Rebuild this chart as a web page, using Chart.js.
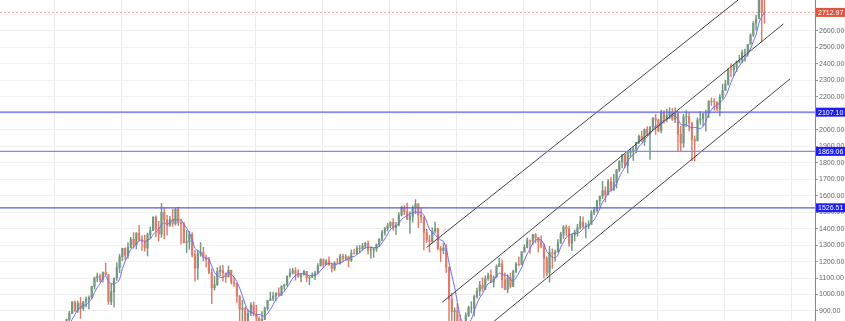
<!DOCTYPE html>
<html>
<head>
<meta charset="utf-8">
<script src="https://cdn.jsdelivr.net/npm/chart.js@4.4.0/dist/chart.umd.min.js"></script>
<style>
html, body { margin: 0; padding: 0; background: #fff; }
</style>
</head>
<body>
<canvas id="chartID" width="845" height="321"></canvas>
<script>
// monthly S&P 500 candles, Jan 1997 .. Mar 2018
const startYear = 1997
const firstOpen = 740.74

const closes = [
	786.16, 790.82, 757.12, 801.34, 848.28, 885.14, 954.29, 899.47, 947.28, 914.62, 955.40, 970.43,
	980.28, 1049.34, 1101.75, 1111.75, 1090.82, 1133.84, 1120.67, 957.28, 1017.01, 1098.67, 1163.63, 1229.23,
	1279.64, 1238.33, 1286.37, 1335.18, 1301.84, 1372.71, 1328.72, 1320.41, 1282.71, 1362.93, 1388.91, 1469.25,
	1394.46, 1366.42, 1498.58, 1452.43, 1420.60, 1454.60, 1430.83, 1517.68, 1436.51, 1429.40, 1314.95, 1320.28,
	1366.01, 1239.94, 1160.33, 1249.46, 1255.82, 1224.42, 1211.23, 1133.58, 1040.94, 1059.78, 1139.45, 1148.08,
	1130.20, 1106.73, 1147.39, 1076.92, 1067.14, 989.82, 911.62, 916.07, 815.28, 885.76, 936.31, 879.82,
	855.70, 841.15, 848.18, 916.92, 963.59, 974.50, 990.31, 1008.01, 995.97, 1050.71, 1058.20, 1111.92,
	1131.13, 1144.94, 1126.21, 1107.30, 1120.68, 1140.84, 1101.72, 1104.24, 1114.58, 1130.20, 1173.82, 1211.92,
	1181.27, 1203.60, 1180.59, 1156.85, 1191.50, 1191.33, 1234.18, 1220.33, 1228.81, 1207.01, 1249.48, 1248.29,
	1280.08, 1280.66, 1294.83, 1310.61, 1270.09, 1270.20, 1276.66, 1303.82, 1335.85, 1377.94, 1400.63, 1418.30,
	1438.24, 1406.82, 1420.86, 1482.37, 1530.62, 1503.35, 1455.27, 1473.99, 1526.75, 1549.38, 1481.14, 1468.36,
	1378.55, 1330.63, 1322.70, 1385.59, 1400.38, 1280.00, 1267.38, 1282.83, 1166.36, 968.75, 896.24, 903.25,
	825.88, 735.09, 797.87, 872.81, 919.14, 919.32, 987.48, 1020.62, 1057.08, 1036.19, 1095.63, 1115.10,
	1073.87, 1104.49, 1169.43, 1186.69, 1089.41, 1030.71, 1101.60, 1049.33, 1141.20, 1183.26, 1180.55, 1257.64,
	1286.12, 1327.22, 1325.83, 1363.61, 1345.20, 1320.64, 1292.28, 1218.89, 1131.42, 1253.30, 1246.96, 1257.60,
	1312.41, 1365.68, 1408.47, 1397.91, 1310.33, 1362.16, 1379.32, 1406.58, 1440.67, 1412.16, 1416.18, 1426.19,
	1498.11, 1514.68, 1569.19, 1597.57, 1630.74, 1606.28, 1685.73, 1632.97, 1681.55, 1756.54, 1805.81, 1848.36,
	1782.59, 1859.45, 1872.34, 1883.95, 1923.57, 1960.23, 1930.67, 2003.37, 1972.29, 2018.05, 2067.56, 2058.90,
	1994.99, 2104.50, 2067.89, 2085.51, 2107.39, 2063.11, 2103.84, 1972.18, 1920.03, 2079.36, 2080.41, 2043.94,
	1940.24, 1932.23, 2059.74, 2065.30, 2096.95, 2098.86, 2173.60, 2170.95, 2168.27, 2126.15, 2198.81, 2238.83,
	2278.87, 2363.64, 2362.72, 2384.20, 2411.80, 2423.41, 2470.30, 2471.65, 2519.36, 2575.26, 2647.58, 2673.61,
	2823.81, 2713.83, 2712.97,
]

const highs = [
	794.67, 817.68, 814.90, 812.93, 851.87, 898.70, 957.73, 961.63, 960.46, 983.12, 959.13, 986.25,
	992.65, 1050.67, 1105.65, 1130.52, 1123.95, 1138.49, 1190.58, 1121.00, 1066.11, 1102.00, 1192.97, 1244.93,
	1280.00, 1283.00, 1316.00, 1347.80, 1375.98, 1376.00, 1420.33, 1357.00, 1361.00, 1373.00, 1410.00, 1473.00,
	1478.00, 1444.55, 1552.87, 1527.19, 1481.51, 1474.00, 1517.32, 1525.00, 1530.09, 1454.80, 1438.00, 1389.00,
	1383.37, 1376.38, 1267.42, 1269.30, 1315.93, 1286.62, 1239.78, 1226.27, 1155.40, 1110.61, 1163.38, 1173.62,
	1176.97, 1130.20, 1173.94, 1147.84, 1106.59, 1070.00, 994.46, 965.00, 924.02, 907.44, 951.57, 954.28,
	935.05, 864.64, 895.90, 924.24, 965.38, 1015.33, 1015.41, 1011.01, 1040.29, 1053.79, 1063.65, 1112.56,
	1155.38, 1158.98, 1163.23, 1150.57, 1127.74, 1146.34, 1140.84, 1109.68, 1131.54, 1142.05, 1188.46, 1217.33,
	1217.80, 1212.44, 1229.11, 1191.75, 1199.56, 1219.59, 1245.15, 1245.86, 1243.13, 1233.34, 1270.64, 1275.80,
	1294.90, 1297.57, 1310.88, 1318.16, 1326.70, 1290.68, 1280.42, 1306.74, 1340.28, 1389.45, 1407.89, 1431.81,
	1441.61, 1461.57, 1438.89, 1498.02, 1535.56, 1540.56, 1555.90, 1503.89, 1538.74, 1576.09, 1552.76, 1523.57,
	1471.77, 1396.02, 1359.68, 1404.57, 1440.24, 1404.05, 1292.17, 1313.15, 1303.04, 1167.03, 1007.51, 918.85,
	943.85, 875.01, 832.98, 888.70, 930.17, 956.23, 996.68, 1039.47, 1080.15, 1101.36, 1113.69, 1130.38,
	1150.45, 1112.42, 1180.16, 1219.80, 1210.39, 1131.23, 1120.95, 1129.24, 1148.90, 1196.14, 1227.08, 1262.60,
	1302.67, 1344.07, 1332.28, 1366.00, 1370.58, 1345.20, 1356.48, 1307.38, 1229.29, 1292.66, 1277.55, 1269.37,
	1333.47, 1378.04, 1419.15, 1422.38, 1415.32, 1363.46, 1391.74, 1426.68, 1474.51, 1470.96, 1434.27, 1448.00,
	1509.94, 1530.94, 1570.28, 1597.57, 1687.18, 1654.19, 1698.78, 1709.67, 1729.86, 1759.82, 1813.55, 1849.44,
	1850.84, 1867.92, 1883.97, 1897.28, 1924.03, 1968.17, 1991.39, 2005.04, 2019.26, 2018.19, 2075.76, 2093.55,
	2064.43, 2119.59, 2117.52, 2125.92, 2134.72, 2129.87, 2132.82, 2112.66, 2020.86, 2094.32, 2116.48, 2104.27,
	2038.20, 1962.96, 2072.21, 2111.05, 2099.06, 2120.55, 2177.09, 2193.81, 2187.87, 2169.60, 2214.10, 2277.53,
	2300.99, 2371.54, 2400.98, 2398.16, 2418.71, 2453.82, 2484.04, 2490.87, 2519.44, 2582.98, 2657.74, 2694.97,
	2872.87, 2835.96, 2801.90,
]

const lows = [
	737.01, 773.43, 756.00, 733.54, 793.21, 837.16, 883.00, 897.60, 891.40, 855.27, 903.57, 924.92,
	912.83, 979.00, 1032.00, 1076.70, 1074.39, 1074.67, 1114.30, 939.98, 939.00, 923.32, 1086.00, 1132.88,
	1205.50, 1211.00, 1221.00, 1282.80, 1281.00, 1277.00, 1328.00, 1268.00, 1263.00, 1233.70, 1340.00, 1387.00,
	1350.00, 1325.00, 1346.60, 1339.40, 1361.00, 1414.00, 1413.00, 1421.00, 1419.00, 1305.79, 1312.00, 1254.07,
	1274.62, 1228.00, 1081.19, 1091.99, 1232.00, 1203.00, 1165.54, 1124.87, 944.75, 1026.76, 1054.31, 1114.51,
	1081.66, 1074.36, 1106.73, 1063.46, 1048.96, 952.92, 775.68, 833.44, 815.28, 768.63, 872.00, 871.00,
	840.00, 806.29, 788.90, 847.85, 902.83, 963.59, 962.10, 960.84, 990.36, 994.00, 1031.20, 1053.41,
	1105.08, 1124.44, 1087.06, 1105.00, 1076.32, 1118.00, 1078.78, 1060.72, 1101.29, 1090.19, 1127.60, 1173.37,
	1163.75, 1180.95, 1176.92, 1136.15, 1146.18, 1188.30, 1183.55, 1201.07, 1205.35, 1168.20, 1201.07, 1246.59,
	1245.74, 1253.61, 1268.42, 1280.74, 1245.34, 1219.29, 1224.54, 1261.30, 1290.93, 1327.10, 1360.98, 1385.93,
	1403.97, 1389.42, 1363.98, 1416.37, 1476.70, 1484.18, 1454.25, 1370.60, 1439.29, 1489.56, 1406.10, 1435.65,
	1270.05, 1316.75, 1256.98, 1312.75, 1373.07, 1272.00, 1200.44, 1248.45, 1133.50, 839.80, 741.02, 815.69,
	804.47, 734.52, 666.79, 783.32, 866.10, 888.86, 869.32, 978.51, 992.25, 1019.95, 1029.38, 1085.89,
	1071.59, 1044.50, 1105.24, 1170.69, 1040.78, 1028.33, 1010.91, 1039.70, 1048.08, 1131.87, 1173.00, 1186.60,
	1257.62, 1282.86, 1249.05, 1302.00, 1311.80, 1258.07, 1282.86, 1101.54, 1114.22, 1074.77, 1158.66, 1202.37,
	1258.86, 1310.73, 1340.03, 1357.38, 1291.98, 1266.74, 1325.41, 1354.65, 1396.56, 1403.28, 1343.35, 1398.11,
	1426.19, 1485.01, 1501.48, 1536.03, 1581.28, 1560.33, 1604.57, 1627.47, 1633.41, 1646.47, 1746.20, 1767.99,
	1770.45, 1737.92, 1834.44, 1814.36, 1859.79, 1915.98, 1930.67, 1904.78, 1964.04, 1820.66, 2001.01, 1972.56,
	1988.44, 1980.90, 2039.69, 2048.38, 2067.93, 2056.32, 2044.02, 1867.01, 1871.91, 1893.70, 2019.39, 1993.26,
	1812.29, 1810.10, 1937.09, 2033.80, 2025.91, 1991.68, 2074.02, 2147.58, 2119.12, 2114.72, 2083.79, 2187.44,
	2245.13, 2271.65, 2322.25, 2328.95, 2352.72, 2405.70, 2407.70, 2417.35, 2446.55, 2520.40, 2566.17, 2605.52,
	2682.36, 2532.69, 2647.32,
]

// drawn levels and channel lines (year, price)
const levels = [2107.10, 1869.06, 1526.51]
const lastPrice = 2712.97
const upperLine = [{x: 2008.12, y: 1285.5}, {x: 2017.42, y: 2788.2}]
const middleLine = [{x: 2008.59, y: 952.8}, {x: 2018.77, y: 2642.5}]
const lowerLine = [{x: 2009.70, y: 765.0}, {x: 2018.97, y: 2309.0}]
const maPeriod = 5

const xMin = 1995.388
const xMax = 2019.716
const yMin = 839.2
const yMax = 2788.2

const upColor = '#74977f'
const downColor = '#de7b6a'

let opens = []
let wickData = []
let bodyData = []
let candleColors = []
let maData = []
closes.forEach(function(c, i) {
	let o = i === 0 ? firstOpen : closes[i - 1]
	opens.push(o)
	let x = startYear + (i + 0.5) / 12
	wickData.push({x: x, y: [lows[i], highs[i]]})
	bodyData.push({x: x, y: [o, c]})
	candleColors.push(c >= o ? upColor : downColor)
	if (i >= maPeriod - 1) {
		let sum = 0
		for (let k = i - maPeriod + 1; k <= i; k++) sum += closes[k]
		maData.push({x: x, y: sum / maPeriod})
	}
})

function flatLine(v) {
	return [{x: xMin, y: v}, {x: xMax, y: v}]
}

const lineBase = {type: 'line', pointRadius: 0, fill: false, tension: 0}

const datasets = [
	Object.assign({}, lineBase, {data: flatLine(lastPrice), borderColor: 'rgba(235,110,100,0.6)', borderWidth: 1, borderDash: [2, 2]}),
	Object.assign({}, lineBase, {data: flatLine(levels[0]), borderColor: '#6262ee', borderWidth: 1.2}),
	Object.assign({}, lineBase, {data: flatLine(levels[1]), borderColor: '#8585ff', borderWidth: 1.2}),
	Object.assign({}, lineBase, {data: flatLine(levels[2]), borderColor: '#5a5ada', borderWidth: 1.2}),
	Object.assign({}, lineBase, {data: upperLine, borderColor: '#444', borderWidth: 1}),
	Object.assign({}, lineBase, {data: middleLine, borderColor: '#444', borderWidth: 1}),
	Object.assign({}, lineBase, {data: lowerLine, borderColor: '#444', borderWidth: 1}),
	Object.assign({}, lineBase, {data: maData, borderColor: '#6b6bff', borderWidth: 1, tension: 0.3}),
	{type: 'bar', data: bodyData, backgroundColor: candleColors, barThickness: 1.5, grouped: false, borderWidth: 0, clip: 0},
	{type: 'bar', data: wickData, backgroundColor: candleColors, barThickness: 0.8, grouped: false, borderWidth: 0, clip: 0},
]

// price tags on the right axis
const priceTags = {
	id: 'priceTags',
	afterDraw: function(chart) {
		const ctx = chart.ctx
		const y = chart.scales.y
		const left = chart.chartArea.right + 1
		const tags = [{v: lastPrice, c: '#e0553f'}].concat(levels.map(function(v) { return {v: v, c: '#1f1ff5'} }))
		ctx.save()
		ctx.font = '7px "Liberation Sans", Arial, sans-serif'
		ctx.textBaseline = 'middle'
		ctx.textAlign = 'left'
		tags.forEach(function(t) {
			let py = y.getPixelForValue(t.v)
			ctx.fillStyle = t.c
			ctx.fillRect(left, py - 4.5, 29, 9)
			ctx.fillStyle = '#fff'
			ctx.fillText(t.v.toFixed(2), left + 2, py + 0.5)
		})
		ctx.restore()
	},
}

let chartCtx = document.getElementById('chartID').getContext('2d')
let chart = new Chart(chartCtx, {
	type: 'bar',
	data: {datasets: datasets},
	plugins: [priceTags],
	options: {
		responsive: false,
		animation: false,
		layout: {padding: 0},
		plugins: {legend: {display: false}, tooltip: {enabled: false}},
		scales: {
			x: {
				type: 'linear',
				min: xMin,
				max: xMax,
				offset: false,
				afterBuildTicks: function(s) {
					let t = []
					for (let yr = 1997; yr <= 2019; yr += 2) t.push({value: yr})
					s.ticks = t
				},
				ticks: {display: false},
				grid: {color: '#ececec', drawTicks: false, offset: false},
				border: {display: false},
			},
			y: {
				position: 'right',
				min: yMin,
				max: yMax,
				afterFit: function(s) {
					s.width = 30
					s.paddingTop = 0
					s.paddingBottom = 0
				},
				ticks: {
					stepSize: 100,
					includeBounds: false,
					padding: 1,
					color: '#666',
					font: {size: 7, family: '"Liberation Sans", Arial, sans-serif'},
					callback: function(v) { return v.toFixed(2) },
				},
				grid: {color: '#f1f1f1', tickColor: '#999', tickLength: 3},
				border: {color: '#888'},
			},
		},
	},
})
</script>
</body>
</html>
